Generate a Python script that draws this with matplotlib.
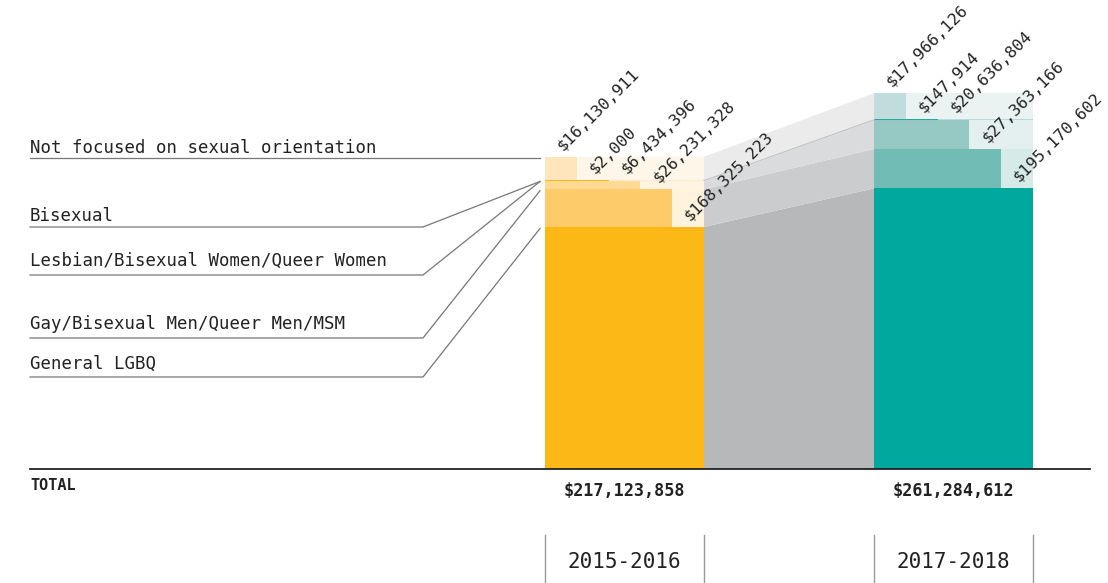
import numpy as np
import matplotlib
matplotlib.use("Agg")
import matplotlib.pyplot as plt

# data (bottom row first)
categories = ["General LGBQ", "Gay/Bisexual Men/Queer Men/MSM",
              "Lesbian/Bisexual Women/Queer Women", "Bisexual",
              "Not focused on sexual orientation"]
periods = ["2015-2016", "2017-2018"]
funding_2015_2016 = [168325223, 26231328, 6434396, 2000, 16130911]
funding_2017_2018 = [195170602, 27363166, 20636804, 147914, 17966126]

# colours: solid part / light label area, bottom row first
orange_solid = ["#FBB817", "#FECB6A", "#FFDA95", "#FBB817", "#FFE5BB"]
orange_light = [None, "#FFF3DE", "#FFF4E2", "#FFEBC8", "#FFF6EA"]
teal_solid = ["#00A89D", "#71BDB5", "#97C9C4", "#2AA79C", "#C0DCDC"]
teal_light = [None, "#D6EBE8", "#E3F0EF", "#B5DCDA", "#EAF3F2"]
band_colors = ["#B7B8BA", "#CBCCCE", "#DADBDC", "#C3C4C5", "#EBEBEB"]

PX = 1.438          # pixels per million dollars
BASE = 469          # baseline, pixels from top
def ypx(p):
    return (BASE - p) / PX

fig = plt.figure(figsize=(11.08, 5.83), dpi=100)
ax = fig.add_axes([0, 0, 1, 1])
ax.set_xlim(0, 1108)
ax.set_ylim(ypx(583), ypx(0))
ax.axis("off")

mono = "DejaVu Sans Mono"
bar_left = [545, 874]
bar_w = 159
series = [np.array(funding_2015_2016) / 1e6, np.array(funding_2017_2018) / 1e6]
solids = [orange_solid, teal_solid]
lights = [orange_light, teal_light]
n = len(categories)

bottoms_all = []
for b, vals in enumerate(series):
    bottoms = np.concatenate([[0], np.cumsum(vals)[:-1]])
    bottoms_all.append(bottoms)
    x0 = bar_left[b]
    for r in range(n):
        frac = (n - r) / n
        sw = bar_w * frac
        lw = 1.5 if vals[r] * PX < 2 else 0
        ax.bar(x0, vals[r], width=sw, bottom=bottoms[r], align="edge",
               color=solids[b][r], edgecolor=solids[b][r], linewidth=lw)
        if lights[b][r] is not None:
            ax.bar(x0 + sw, vals[r], width=bar_w - sw, bottom=bottoms[r],
                   align="edge", color=lights[b][r], edgecolor=lights[b][r],
                   linewidth=lw)
        # value label just above the row
        lx = x0 + bar_w * (n - 1 - r) / n + 18
        ly = bottoms[r] + vals[r] + 6 / PX
        ax.text(lx, ly, f"${int(round(vals[r] * 1e6)):,}", rotation=45,
                rotation_mode="anchor", ha="left", va="baseline",
                fontsize=11.8, family=mono, color="#222222")

# connecting bands
xl = bar_left[0] + bar_w
xr = bar_left[1]
for r in range(n):
    lb, lt = bottoms_all[0][r], bottoms_all[0][r] + series[0][r]
    rb, rt = bottoms_all[1][r], bottoms_all[1][r] + series[1][r]
    ax.fill([xl, xr, xr, xl], [lb, rb, rt, lt], color=band_colors[r],
            linewidth=1.0 if r == 3 else 0, edgecolor=band_colors[r])

# baseline
ax.plot([30, 1090], [0, 0], color="#222222", lw=1.3)

# left labels with leader lines
label_y = [364, 324, 261, 216, 148]
under_y = [377, 338, 275, 227, 158]
for r in range(n):
    ax.text(30, ypx(label_y[r]), categories[r], fontsize=12.5, family=mono,
            ha="left", va="center", color="#222222")
    top = bottoms_all[0][r] + series[0][r]
    if r == n - 1:
        ax.plot([30, 540], [ypx(under_y[r])] * 2, color="#777777", lw=0.9)
    else:
        ax.plot([30, 423, 540], [ypx(under_y[r]), ypx(under_y[r]), top - 1.5 / PX],
                color="#777777", lw=0.9)

# totals
ax.text(30, ypx(486), "TOTAL", fontsize=11, family=mono, weight="bold",
        ha="left", va="center", color="#222222")
for b, vals in enumerate(series):
    cx = bar_left[b] + bar_w / 2
    ax.text(cx, ypx(491), f"${int(round(vals.sum() * 1e6)):,}", fontsize=12.2,
            family=mono, weight="bold", ha="center", va="center", color="#222222")
    ax.text(cx, ypx(562), periods[b], fontsize=15, family=mono,
            ha="center", va="center", color="#222222")
    for ex in (bar_left[b], bar_left[b] + bar_w):
        ax.plot([ex, ex], [ypx(535), ypx(583)], color="#999999", lw=1)

fig.savefig("out.png", dpi=100)
